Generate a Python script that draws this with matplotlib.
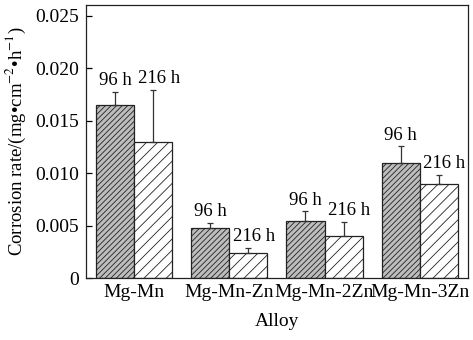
import numpy as np
import matplotlib
matplotlib.use('Agg')
from matplotlib import pyplot as plt

alloys = ['Mg-Mn', 'Mg-Mn-Zn', 'Mg-Mn-2Zn', 'Mg-Mn-3Zn']
rate_96h = [0.01645, 0.00482, 0.00545, 0.01094]
err_96h = [0.00130, 0.00045, 0.00090, 0.00160]
rate_216h = [0.01293, 0.00235, 0.00400, 0.00894]
err_216h = [0.00500, 0.00055, 0.00135, 0.00092]
labels = ['96 h', '216 h']

plt.rcParams['font.family'] = ['Liberation Serif', 'DejaVu Serif']
plt.rcParams['mathtext.fontset'] = 'stix'
plt.rcParams['hatch.linewidth'] = 0.6

fig = plt.figure(figsize=(4.73, 3.4), dpi=100)
ax = fig.add_axes([0.182, 0.182, 0.807, 0.803])

x = np.arange(len(alloys))
w = 0.4
b1 = ax.bar(x - w / 2, rate_96h, w, color='#bdbdbd', edgecolor='#222222',
            hatch='//////', linewidth=0.9, zorder=2)
b2 = ax.bar(x + w / 2, rate_216h, w, color='white', edgecolor='#222222',
            hatch='///', linewidth=0.9, zorder=2)

# one-sided error bars
ax.errorbar(x - w / 2, rate_96h, yerr=[np.zeros(4), err_96h], fmt='none',
            ecolor='#333333', elinewidth=0.9, capsize=2.5, capthick=0.9, zorder=3)
ax.errorbar(x + w / 2, rate_216h, yerr=[np.zeros(4), err_216h], fmt='none',
            ecolor='#333333', elinewidth=0.9, capsize=2.5, capthick=0.9, zorder=3)

for i in range(len(alloys)):
    ax.annotate(labels[0], (x[i] - w / 2, rate_96h[i] + err_96h[i]),
                xytext=(0, 2), textcoords='offset points',
                ha='center', va='bottom', fontsize=13.5)
    ax.annotate(labels[1], (x[i] + w / 2, rate_216h[i] + err_216h[i]),
                xytext=(4, 2), textcoords='offset points',
                ha='center', va='bottom', fontsize=13.5)

ax.set_xlim(-0.505, 3.505)
ax.set_ylim(0, 0.026)
ax.set_yticks([0, 0.005, 0.010, 0.015, 0.020, 0.025])
ax.set_yticklabels(['0', '0.005', '0.010', '0.015', '0.020', '0.025'])
ax.set_xticks(x)
ax.set_xticklabels(alloys)
ax.tick_params(axis='y', direction='in', length=4, width=0.9, labelsize=14, pad=5)
ax.tick_params(axis='x', length=0, labelsize=14, pad=4)
for s in ax.spines.values():
    s.set_linewidth(0.9)
    s.set_color('#222222')

ax.set_xlabel('Alloy', fontsize=14, labelpad=9)
ax.set_ylabel('Corrosion rate/(mg\u2022cm$^{-2}$\u2022h$^{-1}$)', fontsize=13.5, labelpad=5)

fig.savefig('out.png', dpi=100)
